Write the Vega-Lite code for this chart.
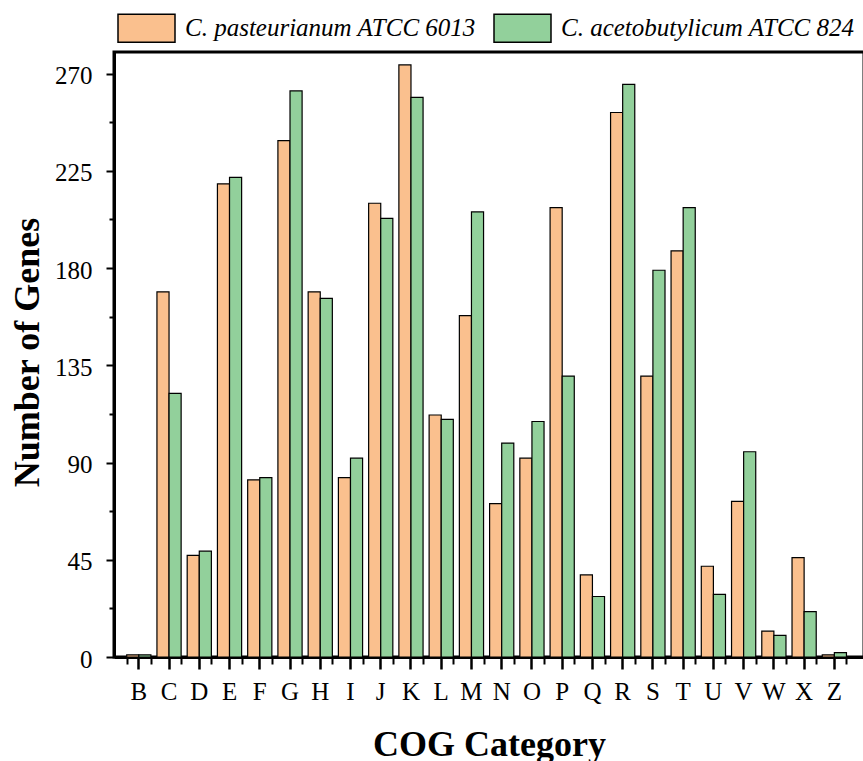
{
  "$schema": "https://vega.github.io/schema/vega-lite/v6.json",
  "width": 750,
  "height": 605,
  "autosize": {"type": "none"},
  "padding": {"left": 114, "top": 52, "right": 0, "bottom": 104},
  "background": "white",
  "config": {
    "font": "Liberation Serif",
    "view": {"stroke": "black", "strokeWidth": 3}
  },
  "data": {
    "values": [
      {"cog": "B", "strain": "C. pasteurianum ATCC 6013", "genes": 1},
      {"cog": "B", "strain": "C. acetobutylicum ATCC 824", "genes": 1},
      {"cog": "C", "strain": "C. pasteurianum ATCC 6013", "genes": 169},
      {"cog": "C", "strain": "C. acetobutylicum ATCC 824", "genes": 122},
      {"cog": "D", "strain": "C. pasteurianum ATCC 6013", "genes": 47},
      {"cog": "D", "strain": "C. acetobutylicum ATCC 824", "genes": 49},
      {"cog": "E", "strain": "C. pasteurianum ATCC 6013", "genes": 219},
      {"cog": "E", "strain": "C. acetobutylicum ATCC 824", "genes": 222},
      {"cog": "F", "strain": "C. pasteurianum ATCC 6013", "genes": 82},
      {"cog": "F", "strain": "C. acetobutylicum ATCC 824", "genes": 83},
      {"cog": "G", "strain": "C. pasteurianum ATCC 6013", "genes": 239},
      {"cog": "G", "strain": "C. acetobutylicum ATCC 824", "genes": 262},
      {"cog": "H", "strain": "C. pasteurianum ATCC 6013", "genes": 169},
      {"cog": "H", "strain": "C. acetobutylicum ATCC 824", "genes": 166},
      {"cog": "I", "strain": "C. pasteurianum ATCC 6013", "genes": 83},
      {"cog": "I", "strain": "C. acetobutylicum ATCC 824", "genes": 92},
      {"cog": "J", "strain": "C. pasteurianum ATCC 6013", "genes": 210},
      {"cog": "J", "strain": "C. acetobutylicum ATCC 824", "genes": 203},
      {"cog": "K", "strain": "C. pasteurianum ATCC 6013", "genes": 274},
      {"cog": "K", "strain": "C. acetobutylicum ATCC 824", "genes": 259},
      {"cog": "L", "strain": "C. pasteurianum ATCC 6013", "genes": 112},
      {"cog": "L", "strain": "C. acetobutylicum ATCC 824", "genes": 110},
      {"cog": "M", "strain": "C. pasteurianum ATCC 6013", "genes": 158},
      {"cog": "M", "strain": "C. acetobutylicum ATCC 824", "genes": 206},
      {"cog": "N", "strain": "C. pasteurianum ATCC 6013", "genes": 71},
      {"cog": "N", "strain": "C. acetobutylicum ATCC 824", "genes": 99},
      {"cog": "O", "strain": "C. pasteurianum ATCC 6013", "genes": 92},
      {"cog": "O", "strain": "C. acetobutylicum ATCC 824", "genes": 109},
      {"cog": "P", "strain": "C. pasteurianum ATCC 6013", "genes": 208},
      {"cog": "P", "strain": "C. acetobutylicum ATCC 824", "genes": 130},
      {"cog": "Q", "strain": "C. pasteurianum ATCC 6013", "genes": 38},
      {"cog": "Q", "strain": "C. acetobutylicum ATCC 824", "genes": 28},
      {"cog": "R", "strain": "C. pasteurianum ATCC 6013", "genes": 252},
      {"cog": "R", "strain": "C. acetobutylicum ATCC 824", "genes": 265},
      {"cog": "S", "strain": "C. pasteurianum ATCC 6013", "genes": 130},
      {"cog": "S", "strain": "C. acetobutylicum ATCC 824", "genes": 179},
      {"cog": "T", "strain": "C. pasteurianum ATCC 6013", "genes": 188},
      {"cog": "T", "strain": "C. acetobutylicum ATCC 824", "genes": 208},
      {"cog": "U", "strain": "C. pasteurianum ATCC 6013", "genes": 42},
      {"cog": "U", "strain": "C. acetobutylicum ATCC 824", "genes": 29},
      {"cog": "V", "strain": "C. pasteurianum ATCC 6013", "genes": 72},
      {"cog": "V", "strain": "C. acetobutylicum ATCC 824", "genes": 95},
      {"cog": "W", "strain": "C. pasteurianum ATCC 6013", "genes": 12},
      {"cog": "W", "strain": "C. acetobutylicum ATCC 824", "genes": 10},
      {"cog": "X", "strain": "C. pasteurianum ATCC 6013", "genes": 46},
      {"cog": "X", "strain": "C. acetobutylicum ATCC 824", "genes": 21},
      {"cog": "Z", "strain": "C. pasteurianum ATCC 6013", "genes": 1},
      {"cog": "Z", "strain": "C. acetobutylicum ATCC 824", "genes": 2}
    ]
  },
  "layer": [
    {
      "mark": {"type": "bar", "stroke": "black", "strokeWidth": 1.2, "strokeJoin": "miter"},
      "encoding": {
        "x": {
          "field": "cog",
          "type": "nominal",
          "sort": null,
          "scale": {"paddingInner": 0.2, "paddingOuter": 0.5, "align": 0.42},
          "axis": {
            "orient": "bottom",
            "labelAngle": 0,
            "grid": false,
            "domainColor": "black",
            "domainWidth": 3,
            "tickColor": "black",
            "tickSize": 12,
            "tickWidth": 2.5,
            "labelFont": "Liberation Serif",
            "labelFontSize": 25,
            "labelColor": "black",
            "labelPadding": 10,
            "title": "COG Category",
            "titleFont": "Liberation Serif",
            "titleFontSize": 36,
            "titleFontWeight": "bold",
            "titleColor": "black",
            "titleY": 98,
            "titleBaseline": "alphabetic"
          }
        },
        "xOffset": {
          "field": "strain",
          "sort": ["C. pasteurianum ATCC 6013", "C. acetobutylicum ATCC 824"]
        },
        "y": {
          "field": "genes",
          "type": "quantitative",
          "scale": {"domain": [0, 280], "nice": false},
          "axis": {
            "orient": "left",
            "values": [0, 45, 90, 135, 180, 225, 270],
            "grid": false,
            "domainColor": "black",
            "domainWidth": 3,
            "tickColor": "black",
            "tickSize": 8,
            "tickWidth": 2,
            "labelFont": "Liberation Serif",
            "labelFontSize": 25,
            "labelColor": "black",
            "labelPadding": 14,
            "labelOffset": 2,
            "title": "Number of Genes",
            "titleFont": "Liberation Serif",
            "titleFontSize": 36,
            "titleFontWeight": "bold",
            "titleColor": "black",
            "titleAngle": 270,
            "titleAlign": "center",
            "titleBaseline": "alphabetic",
            "titleX": -75.5,
            "titleY": 300
          }
        },
        "color": {
          "field": "strain",
          "type": "nominal",
          "scale": {
            "domain": ["C. pasteurianum ATCC 6013", "C. acetobutylicum ATCC 824"],
            "range": ["#FAC08E", "#92D09B"]
          },
          "legend": {
            "orient": "none",
            "legendX": 3,
            "legendY": -53.5,
            "direction": "horizontal",
            "title": null,
            "symbolType": "M-1,-0.49L1,-0.49L1,0.49L-1,0.49Z",
            "symbolSize": 3249,
            "symbolStrokeColor": "black",
            "symbolStrokeWidth": 1.5,
            "symbolOpacity": 1,
            "labelFont": "Liberation Serif",
            "labelFontStyle": "italic",
            "labelFontSize": 25,
            "labelColor": "black",
            "labelOffset": 9,
            "labelLimit": 400,
            "columnPadding": 15,
            "encode": {
              "symbols": {
                "update": {
                  "size": {"value": 3249},
                  "shape": {"value": "M-1,-0.49L1,-0.49L1,0.49L-1,0.49Z"},
                  "stroke": {"value": "black"},
                  "strokeWidth": {"value": 1.5}
                }
              }
            }
          }
        }
      }
    },
    {
      "mark": {"type": "bar", "opacity": 0},
      "encoding": {
        "x": {
          "field": "cog",
          "type": "nominal",
          "sort": null,
          "scale": {"paddingInner": 0.2, "paddingOuter": 0.5, "align": 0.42},
          "axis": {
            "orient": "bottom",
            "tickBand": "extent",
            "labels": false,
            "domain": false,
            "grid": false,
            "tickColor": "black",
            "tickSize": 7,
            "tickWidth": 2,
            "title": null
          }
        },
        "y": {
          "field": "genes",
          "type": "quantitative",
          "scale": {"domain": [0, 280], "nice": false},
          "axis": {
            "orient": "left",
            "values": [22.5, 67.5, 112.5, 157.5, 202.5, 247.5],
            "labels": false,
            "domain": false,
            "grid": false,
            "tickColor": "black",
            "tickSize": 5,
            "tickWidth": 2,
            "title": null
          }
        }
      }
    }
  ],
  "resolve": {"axis": {"x": "independent", "y": "independent"}}
}
